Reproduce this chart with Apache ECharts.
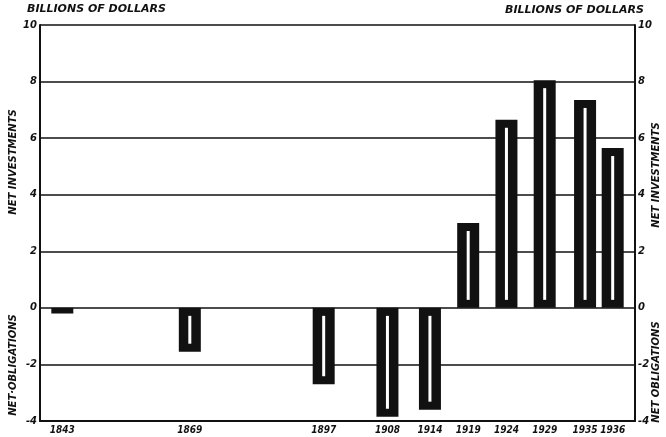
<!DOCTYPE html>
<html>
<head>
<meta charset="utf-8">
<script src="https://cdn.jsdelivr.net/npm/echarts@6/dist/echarts.min.js"></script>
<style>
  html, body { margin: 0; padding: 0; background: #fff; }
  #chart { width: 666px; height: 437px; }
</style>
</head>
<body>
<div id="chart"></div>
<script>
// Data (billions of dollars)
const years = ['1843', '1869', '1897', '1908', '1914', '1919', '1924', '1929', '1935', '1936'];
const values = [-0.2, -1.55, -2.7, -3.85, -3.6, 3.0, 6.65, 8.05, 7.35, 5.65];
const yTicks = [-4, -2, 0, 2, 4, 6, 8, 10];

// Layout: the original x axis is not linear in years, so each bar sits on a slot
const SLOT_COUNT = 280;
const barSlot = [10, 70, 133, 163, 183, 201, 219, 237, 256, 269];

const FONT = 'DejaVu Sans';
const COND = '"DejaVu Sans Condensed", "DejaVu Sans"';
const INK = '#111';

const categories = new Array(SLOT_COUNT).fill('');
barSlot.forEach((s, i) => { categories[s] = years[i]; });

const seriesData = values.map((v, i) => [barSlot[i], v]);

function renderBar(params, api) {
  const x = api.value(0);
  const v = api.value(1);
  const top = api.coord([x, v]);
  const base = api.coord([x, 0]);
  const w = 22;
  const y0 = Math.min(top[1], base[1]);
  const h = Math.abs(base[1] - top[1]);
  const children = [{
    type: 'rect',
    shape: { x: top[0] - w / 2, y: y0, width: w, height: h },
    style: { fill: INK }
  }];
  if (h > 20) {
    children.push({
      type: 'rect',
      shape: { x: top[0] - 1.5, y: y0 + 8, width: 3, height: h - 16 },
      style: { fill: '#fff' }
    });
  }
  return { type: 'group', children };
}

const labelStyle = { fontFamily: FONT, fontStyle: 'italic', fontWeight: 'bold', color: INK };

const yAxisBase = {
  type: 'value',
  min: -4,
  max: 10,
  interval: 2,
  axisLine: { show: true, lineStyle: { color: INK, width: 2 } },
  axisTick: { show: false },
  splitLine: { show: true, lineStyle: { color: INK, width: 1.5 } },
  axisLabel: { ...labelStyle, fontSize: 10, margin: 3 }
};

const sideFont = `italic bold 10px "${FONT}"`;

const chart = echarts.init(document.getElementById('chart'));

chart.setOption({
  animation: false,
  backgroundColor: '#fff',
  grid: { left: 40, right: 31, top: 25, bottom: 16 },
  xAxis: {
    type: 'category',
    data: categories,
    boundaryGap: true,
    axisLine: { onZero: false, lineStyle: { color: INK, width: 2 } },
    axisTick: { show: false },
    axisLabel: { ...labelStyle, fontFamily: COND, fontSize: 10, interval: 0, margin: 4 }
  },
  yAxis: [
    { ...yAxisBase, position: 'left' },
    { ...yAxisBase, position: 'right', splitLine: { show: false } }
  ],
  graphic: [
    {
      type: 'text', left: 27, top: 4,
      style: { text: 'BILLIONS OF DOLLARS', font: `italic bold 11px "${FONT}"`, fill: INK }
    },
    {
      type: 'text', left: 505, top: 5,
      style: { text: 'BILLIONS OF DOLLARS', font: `italic bold 11px "${FONT}"`, fill: INK }
    },
    {
      type: 'text', x: 13, y: 162, rotation: Math.PI / 2,
      style: { text: 'NET INVESTMENTS', font: sideFont, fill: INK, align: 'center', verticalAlign: 'middle' }
    },
    {
      type: 'text', x: 13, y: 365, rotation: Math.PI / 2,
      style: { text: 'NET\u00b7OBLIGATIONS', font: sideFont, fill: INK, align: 'center', verticalAlign: 'middle' }
    },
    {
      type: 'text', x: 656, y: 175, rotation: Math.PI / 2,
      style: { text: 'NET INVESTMENTS', font: sideFont, fill: INK, align: 'center', verticalAlign: 'middle' }
    },
    {
      type: 'text', x: 656, y: 372, rotation: Math.PI / 2,
      style: { text: 'NET OBLIGATIONS', font: sideFont, fill: INK, align: 'center', verticalAlign: 'middle' }
    }
  ],
  series: [{
    type: 'custom',
    renderItem: renderBar,
    encode: { x: 0, y: 1 },
    data: seriesData,
    z: 5
  }]
});
</script>
</body>
</html>
